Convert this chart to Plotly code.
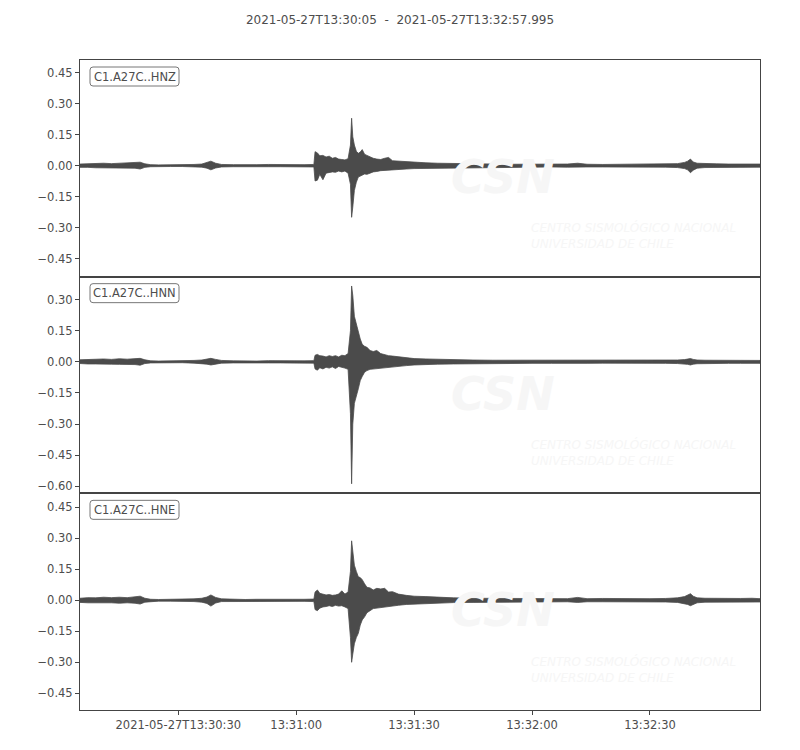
import pandas as pd
import plotly.graph_objects as go
from plotly.subplots import make_subplots

# record start / end
START = '2021-05-27 13:30:05'
END = '2021-05-27 13:32:57.995'
TITLE = '2021-05-27T13:30:05  -  2021-05-27T13:32:57.995'

CHANNELS = ['C1.A27C..HNZ', 'C1.A27C..HNN', 'C1.A27C..HNE']

# envelope knots, seconds after START
T_SEC = [0, 2, 4, 6, 8, 10, 12, 14, 15.3, 16.5,
         18, 20, 23, 26, 29, 31, 32.3, 33.3, 34.5, 36,
         39, 42, 45, 48, 51, 54, 57, 59.5, 59.8, 60.4,
         61.0, 61.8, 62.6, 63.4, 64.2, 65.0, 65.8, 66.6, 67.4, 68.2,
         68.8, 69.1, 69.4, 69.8, 70.3, 70.8, 71.3, 71.8, 72.4, 73.0,
         73.8, 74.6, 75.5, 76.5, 77.5, 78.5, 79.5, 81, 83, 85,
         88, 91, 95, 100, 105, 110, 115, 120, 124, 126.6,
         129, 133, 137, 141, 145, 149, 152, 153.8, 154.6, 155.3,
         156.0, 157, 159, 162, 165, 168, 171, 173]

# HNZ (upper / lower envelope)
Z_UP = [0.008, 0.010, 0.009, 0.012, 0.010, 0.012, 0.011, 0.013, 0.017, 0.009,
        0.005, 0.004, 0.004, 0.004, 0.006, 0.008, 0.014, 0.022, 0.012, 0.006,
        0.005, 0.004, 0.005, 0.006, 0.005, 0.006, 0.005, 0.006, 0.068, 0.062,
        0.048, 0.050, 0.042, 0.046, 0.036, 0.040, 0.032, 0.030, 0.028, 0.034,
        0.100, 0.230, 0.140, 0.100, 0.070, 0.060, 0.066, 0.078, 0.055, 0.050,
        0.042, 0.036, 0.032, 0.030, 0.036, 0.040, 0.024, 0.022, 0.018, 0.016,
        0.014, 0.012, 0.010, 0.009, 0.008, 0.007, 0.008, 0.007, 0.008, 0.012,
        0.007, 0.006, 0.007, 0.006, 0.007, 0.008, 0.010, 0.016, 0.022, 0.032,
        0.018, 0.012, 0.010, 0.009, 0.008, 0.008, 0.007, 0.008]
Z_LO = [-0.008, -0.008, -0.010, -0.009, -0.011, -0.010, -0.012, -0.012, -0.016, -0.008,
        -0.005, -0.004, -0.004, -0.004, -0.005, -0.007, -0.012, -0.020, -0.011, -0.006,
        -0.005, -0.004, -0.004, -0.005, -0.005, -0.005, -0.005, -0.006, -0.074, -0.070,
        -0.042, -0.068, -0.036, -0.034, -0.030, -0.032, -0.026, -0.030, -0.026, -0.036,
        -0.090, -0.250, -0.200, -0.120, -0.080, -0.055, -0.050, -0.045, -0.040, -0.042,
        -0.036, -0.030, -0.028, -0.024, -0.022, -0.024, -0.020, -0.018, -0.016, -0.014,
        -0.012, -0.011, -0.010, -0.008, -0.008, -0.007, -0.007, -0.006, -0.007, -0.008,
        -0.006, -0.006, -0.006, -0.006, -0.006, -0.007, -0.009, -0.014, -0.020, -0.034,
        -0.022, -0.012, -0.009, -0.008, -0.007, -0.008, -0.007, -0.007]

# HNN
N_UP = [0.010, 0.012, 0.011, 0.014, 0.012, 0.015, 0.013, 0.016, 0.017, 0.010,
        0.005, 0.004, 0.004, 0.005, 0.007, 0.009, 0.013, 0.017, 0.012, 0.007,
        0.005, 0.004, 0.004, 0.006, 0.005, 0.005, 0.005, 0.006, 0.032, 0.036,
        0.030, 0.028, 0.024, 0.030, 0.026, 0.030, 0.024, 0.032, 0.030, 0.040,
        0.150, 0.366, 0.320, 0.220, 0.180, 0.140, 0.110, 0.085, 0.075, 0.070,
        0.055, 0.050, 0.055, 0.040, 0.034, 0.030, 0.028, 0.024, 0.020, 0.016,
        0.014, 0.012, 0.010, 0.009, 0.008, 0.008, 0.007, 0.008, 0.008, 0.009,
        0.007, 0.007, 0.007, 0.006, 0.007, 0.008, 0.009, 0.011, 0.013, 0.016,
        0.012, 0.009, 0.008, 0.008, 0.007, 0.007, 0.007, 0.007]
N_LO = [-0.008, -0.010, -0.010, -0.012, -0.011, -0.012, -0.014, -0.013, -0.016, -0.008,
        -0.005, -0.004, -0.004, -0.004, -0.006, -0.008, -0.011, -0.015, -0.011, -0.006,
        -0.005, -0.004, -0.004, -0.005, -0.005, -0.005, -0.005, -0.006, -0.034, -0.040,
        -0.028, -0.034, -0.026, -0.030, -0.024, -0.032, -0.022, -0.026, -0.030, -0.036,
        -0.250, -0.588, -0.300, -0.200, -0.160, -0.130, -0.090, -0.070, -0.050, -0.042,
        -0.036, -0.034, -0.032, -0.030, -0.028, -0.026, -0.024, -0.022, -0.018, -0.015,
        -0.012, -0.011, -0.010, -0.009, -0.008, -0.007, -0.007, -0.007, -0.007, -0.008,
        -0.007, -0.006, -0.007, -0.006, -0.006, -0.007, -0.008, -0.010, -0.012, -0.015,
        -0.011, -0.009, -0.008, -0.007, -0.007, -0.007, -0.006, -0.007]

# HNE
E_UP = [0.010, 0.013, 0.012, 0.015, 0.013, 0.015, 0.013, 0.016, 0.020, 0.010,
        0.005, 0.004, 0.004, 0.005, 0.007, 0.010, 0.016, 0.026, 0.014, 0.007,
        0.005, 0.004, 0.005, 0.006, 0.005, 0.005, 0.005, 0.006, 0.040, 0.050,
        0.034, 0.030, 0.026, 0.028, 0.024, 0.026, 0.030, 0.046, 0.030, 0.040,
        0.140, 0.288, 0.240, 0.170, 0.140, 0.114, 0.110, 0.100, 0.080, 0.063,
        0.060, 0.050, 0.058, 0.055, 0.058, 0.040, 0.042, 0.030, 0.024, 0.020,
        0.018, 0.014, 0.012, 0.010, 0.009, 0.009, 0.008, 0.008, 0.008, 0.014,
        0.008, 0.009, 0.008, 0.010, 0.008, 0.009, 0.012, 0.018, 0.024, 0.032,
        0.020, 0.012, 0.010, 0.009, 0.008, 0.009, 0.010, 0.008]
E_LO = [-0.010, -0.012, -0.011, -0.013, -0.012, -0.014, -0.012, -0.014, -0.018, -0.009,
        -0.005, -0.004, -0.004, -0.004, -0.006, -0.009, -0.015, -0.028, -0.013, -0.006,
        -0.005, -0.004, -0.004, -0.005, -0.005, -0.005, -0.005, -0.006, -0.045, -0.050,
        -0.038, -0.032, -0.030, -0.026, -0.030, -0.024, -0.028, -0.026, -0.032, -0.040,
        -0.180, -0.300, -0.260, -0.210, -0.180, -0.160, -0.120, -0.095, -0.080, -0.060,
        -0.050, -0.040, -0.038, -0.034, -0.032, -0.030, -0.028, -0.024, -0.020, -0.018,
        -0.016, -0.013, -0.011, -0.010, -0.009, -0.008, -0.008, -0.007, -0.007, -0.010,
        -0.007, -0.007, -0.007, -0.008, -0.007, -0.008, -0.010, -0.016, -0.020, -0.026,
        -0.018, -0.012, -0.009, -0.008, -0.008, -0.008, -0.008, -0.008]

Y_RANGES = [[-0.5375, 0.512], [-0.634, 0.411], [-0.531, 0.518]]
Y_TICKS = [[-0.45, -0.30, -0.15, 0.0, 0.15, 0.30, 0.45],
           [-0.60, -0.45, -0.30, -0.15, 0.0, 0.15, 0.30],
           [-0.45, -0.30, -0.15, 0.0, 0.15, 0.30, 0.45]]
X_TICKS = ['2021-05-27 13:30:30', '2021-05-27 13:31:00', '2021-05-27 13:31:30',
           '2021-05-27 13:32:00', '2021-05-27 13:32:30']
X_TICKTEXT = ['2021-05-27T13:30:30', '13:31:00', '13:31:30', '13:32:00', '13:32:30']

for arr in (Z_UP, Z_LO, N_UP, N_LO, E_UP, E_LO):
    assert len(arr) == len(T_SEC), len(arr)

TRACE_COLOR = '#4b4b4b'
AXIS_COLOR = '#444444'
TEXT_COLOR = '#4d4d4d'
MARK_COLOR = '#f6f6f6'
FONT = 'DejaVu Sans, sans-serif'

W, H = 800, 750
MARGIN = dict(l=72, r=48, t=52, b=48)
PANEL_W = W - MARGIN['l'] - MARGIN['r']
PANEL_H = (H - MARGIN['t'] - MARGIN['b']) / 3


def rounded_box(left, top, right, bottom, r=3):
    """Rounded rectangle path in axis-domain units, given pixel offsets."""
    x0, x1 = left / PANEL_W, right / PANEL_W
    y1, y0 = 1 - top / PANEL_H, 1 - bottom / PANEL_H
    rx, ry = r / PANEL_W, r / PANEL_H
    return (f'M {x0 + rx},{y0} L {x1 - rx},{y0} Q {x1},{y0} {x1},{y0 + ry} '
            f'L {x1},{y1 - ry} Q {x1},{y1} {x1 - rx},{y1} '
            f'L {x0 + rx},{y1} Q {x0},{y1} {x0},{y1 - ry} '
            f'L {x0},{y0 + ry} Q {x0},{y0} {x0 + rx},{y0} Z')


times = pd.Timestamp(START) + pd.to_timedelta(T_SEC, unit='s')
poly_x = list(times) + list(times[::-1])

fig = make_subplots(rows=3, cols=1, shared_xaxes=True, vertical_spacing=0)

envelopes = [(Z_UP, Z_LO), (N_UP, N_LO), (E_UP, E_LO)]
for i, (up, lo) in enumerate(envelopes):
    row = i + 1
    fig.add_trace(go.Scatter(
        x=poly_x,
        y=list(up) + list(lo[::-1]),
        mode='lines',
        fill='toself',
        fillcolor=TRACE_COLOR,
        line=dict(color=TRACE_COLOR, width=0.8),
        name=CHANNELS[i],
        hoverinfo='skip',
    ), row=row, col=1)

    sfx = '' if row == 1 else str(row)
    xd, yd = f'x{sfx} domain', f'y{sfx} domain'

    # faint agency watermark
    fig.add_annotation(
        text='<b><i>CSN</i></b>', xref=xd, yref=yd,
        x=0.622, y=0.46, showarrow=False,
        font=dict(family=FONT, size=46, color=MARK_COLOR))
    fig.add_annotation(
        text='<i>CENTRO SISMOLÓGICO NACIONAL<br>UNIVERSIDAD DE CHILE</i>',
        xref=xd, yref=yd,
        x=0.66, y=0.27, xanchor='left', yanchor='top', align='left',
        showarrow=False,
        font=dict(family=FONT, size=12, color=MARK_COLOR))

    # channel label in a rounded box
    fig.add_shape(
        type='path', xref=xd, yref=yd,
        path=rounded_box(10, 7, 99, 26),
        fillcolor='white', line=dict(color='#777777', width=1),
        layer='above')
    fig.add_annotation(
        text=CHANNELS[i], xref=xd, yref=yd,
        x=54.5 / PANEL_W, y=1 - 16.5 / PANEL_H,
        xanchor='center', yanchor='middle', showarrow=False,
        font=dict(family=FONT, size=11.5, color=TEXT_COLOR))

    fig.update_yaxes(
        range=Y_RANGES[i], tickvals=Y_TICKS[i], tickformat='.2f',
        showline=True, mirror=True, linecolor=AXIS_COLOR, linewidth=1,
        showgrid=False, zeroline=False,
        ticks='outside', ticklen=4, tickcolor=AXIS_COLOR,
        row=row, col=1)
    fig.update_xaxes(
        type='date', range=[START, END],
        showline=True, mirror=True, linecolor=AXIS_COLOR, linewidth=1,
        showgrid=False, zeroline=False,
        ticks='' if row < 3 else 'outside', ticklen=4, tickcolor=AXIS_COLOR,
        showticklabels=(row == 3),
        row=row, col=1)

fig.update_xaxes(tickvals=X_TICKS, ticktext=X_TICKTEXT, row=3, col=1)

# the page adds an 8px body margin, so the margins are shifted to compensate
fig.update_layout(
    width=W, height=H,
    margin=MARGIN,
    showlegend=False,
    plot_bgcolor='white',
    paper_bgcolor='white',
    font=dict(family=FONT, size=11.5, color=TEXT_COLOR),
    title=dict(text=TITLE, x=0.5 - 8 / W, xref='container', xanchor='center',
               y=1 - 12 / H, yanchor='middle',
               font=dict(family=FONT, size=12, color=TEXT_COLOR)),
)

fig.write_html('out.html')
